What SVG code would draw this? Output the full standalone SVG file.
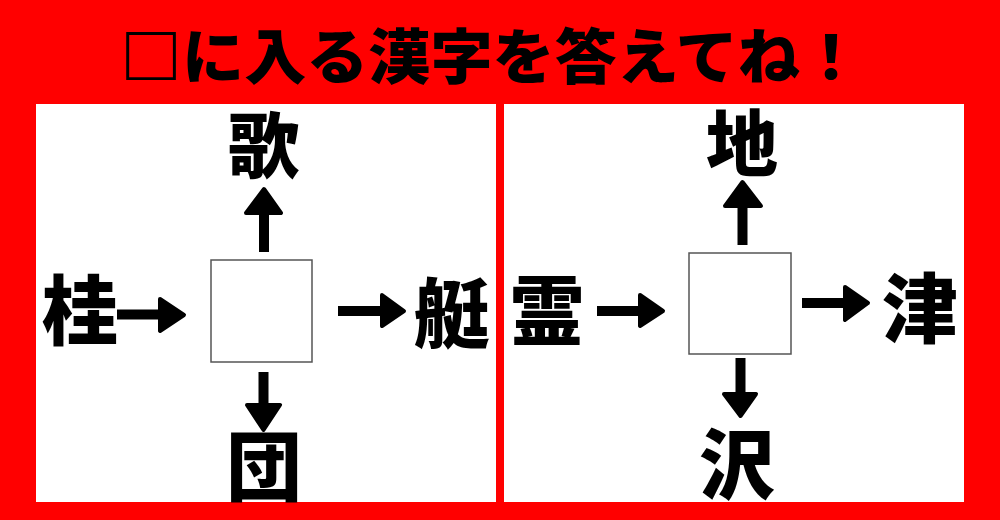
<svg xmlns="http://www.w3.org/2000/svg" width="1000" height="520" viewBox="0 0 1000 520">
<style>
.t{font-family:"Noto Sans CJK JP","Noto Sans CJK SC",sans-serif;font-weight:900;fill:#000;text-anchor:middle}
.k{font-size:76px}
.box{fill:#fff;stroke:#555;stroke-width:1.5}
.sh{stroke:#000;stroke-width:10;fill:none}
.hd{fill:#000;stroke:#000;stroke-width:4;stroke-linejoin:round}
</style>
<rect x="0" y="0" width="1000" height="520" fill="#ff0000"/>
<rect x="36" y="104" width="460" height="398" fill="#fff"/>
<rect x="504" y="104" width="460" height="398" fill="#fff"/>
<text class="t" x="491" y="79" font-size="60" textLength="742" lengthAdjust="spacingAndGlyphs">□に入る漢字を答えてね！</text>
<g id="left-box"><rect class="box" x="211" y="260" width="101" height="102"/></g>
<g id="n-kei"><text class="t k" x="80" y="339">桂</text></g>
<g id="n-tei"><text class="t k" x="452" y="342">艇</text></g>
<g id="n-uta"><text class="t" font-size="72" x="264" y="172">歌</text></g>
<g id="n-dan"><text class="t k" x="264" y="495">団</text></g>
<g id="right-box"><rect class="box" x="689" y="253" width="102" height="101"/></g>
<g id="n-rei"><text class="t k" x="547" y="339">霊</text></g>
<g id="n-shin"><text class="t k" x="920" y="337">津</text></g>
<g id="n-chi"><text class="t" font-size="72" x="742" y="170">地</text></g>
<g id="n-sawa"><text class="t k" x="737" y="493">沢</text></g>
<g id="connectors">
<line class="sh" x1="117" y1="314.5" x2="162" y2="314.5"/>
<polygon class="hd" points="160,299 184,315 160,331"/>
<line class="sh" x1="338" y1="311" x2="384" y2="311"/>
<polygon class="hd" points="382,295 404,311 382,326"/>
<line class="sh" x1="264" y1="252" x2="264" y2="210"/>
<polygon class="hd" points="246,213 264,189 281,213"/>
<line class="sh" x1="263.5" y1="372" x2="263.5" y2="407"/>
<polygon class="hd" points="247,405 263.5,430 280,405"/>
<line class="sh" x1="597" y1="311" x2="642" y2="311"/>
<polygon class="hd" points="640,295 663,311 640,326"/>
<line class="sh" x1="802" y1="303" x2="847" y2="303"/>
<polygon class="hd" points="845,287 868,303 845,320"/>
<line class="sh" x1="742.5" y1="245" x2="742.5" y2="204"/>
<polygon class="hd" points="725,206 742.5,182 761,206"/>
<line class="sh" x1="740.5" y1="358" x2="740.5" y2="396"/>
<polygon class="hd" points="724,394 740.5,416 756,394"/>
</g>
</svg>
